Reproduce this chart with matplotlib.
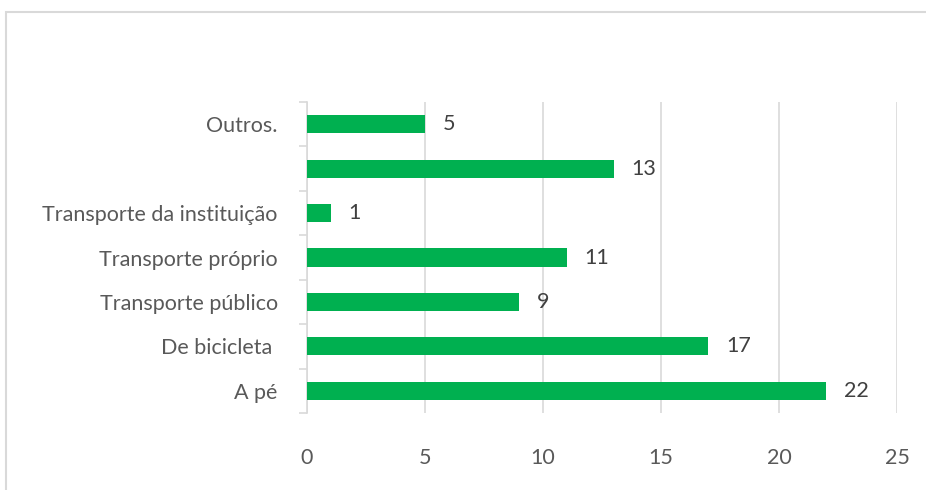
import matplotlib.pyplot as plt
from matplotlib.patches import Rectangle

categorias = ["A pé", "De bicicleta ", "Transporte público", "Transporte próprio",
              "Transporte da instituição", "", "Outros."]
valores = [22, 17, 9, 11, 1, 13, 5]
xticks = [0, 5, 10, 15, 20, 25]

verde = "#00B050"
cinza = "#D9D9D9"
texto = "#595959"
fs = 15.5

plt.rcParams['font.family'] = ['Lato', 'DejaVu Sans']

fig = plt.figure(figsize=(9.26, 4.9), dpi=100)
ax = fig.add_axes([307 / 926, 1 - 413 / 490, 590 / 926, 311 / 490])

# moldura do gráfico (cortada à direita e em baixo)
fig.patches.append(Rectangle((6 / 926, -0.1), 1.0, 1 - 12 / 490 + 0.1,
                             transform=fig.transFigure, fill=False,
                             edgecolor=cinza, linewidth=1.5))

y = range(len(categorias))
ax.barh(y, valores, height=0.41, color=verde, zorder=3)
for i, v in zip(y, valores):
    ax.text(v + 0.75, i, str(v), va='center', ha='left', fontsize=fs, color="#404040")

ax.set_xlim(0, 25)
ax.set_ylim(-0.5, len(categorias) - 0.5)
ax.set_xticks(xticks)
ax.set_xticklabels([str(t) for t in xticks], fontsize=fs, color=texto)
ax.tick_params(axis='x', length=0, pad=25)
ax.xaxis.grid(True, color=cinza, linewidth=1.2, zorder=0)

ax.set_yticks(list(y))
ax.set_yticklabels(categorias, fontsize=fs, color=texto)
ax.tick_params(axis='y', length=0, pad=21)
# marcas entre categorias
ax.set_yticks([i - 0.5 for i in range(len(categorias) + 1)], minor=True)
ax.tick_params(axis='y', which='minor', length=6, color=cinza, width=1.2)

for s in ['top', 'right', 'bottom']:
    ax.spines[s].set_visible(False)
ax.spines['left'].set_color(cinza)
ax.spines['left'].set_linewidth(1.2)

fig.savefig("out.png", dpi=100)
